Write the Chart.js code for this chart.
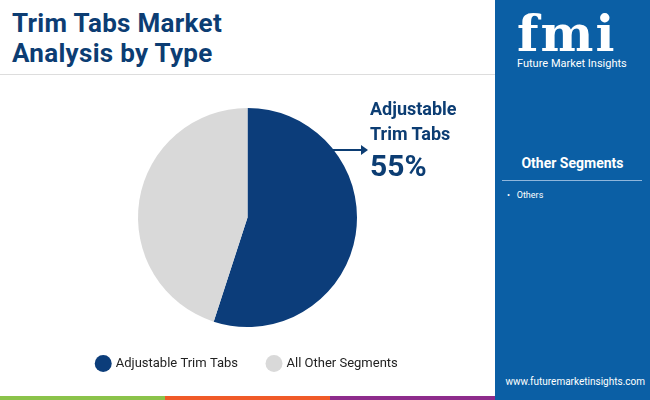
<!DOCTYPE html><html><head><script src="https://cdn.jsdelivr.net/npm/chart.js"></script>
<style>body{margin:0;width:650px;height:400px;position:relative;overflow:hidden;font-family:Roboto,sans-serif;background:#fff}
#t{position:absolute;left:12px;top:8px;font-size:26px;font-weight:bold;color:#0c3d73;line-height:30px;letter-spacing:0.3px}
#hl{position:absolute;left:0;top:74px;width:495px;height:1px;background:#ddd}
#p{position:absolute;left:495px;top:0;width:155px;height:400px;background:#0b5fa5;color:#fff}
.s{position:absolute;top:396px;height:4px}
#c{position:absolute;left:0;top:95px}
.z{z-index:2}
</style></head><body>
<canvas id="c" width="495" height="285"></canvas>
<div id="t">Trim Tabs Market<br>Analysis by Type</div><div id="hl"></div>
<div id="p">
<div style="position:absolute;left:22px;top:4px;font:bold 50px 'DejaVu Serif',serif;letter-spacing:2px">fmi</div>
<div style="position:absolute;left:22px;top:57px;font-size:11px">Future Market Insights</div>
<div style="position:absolute;left:0;width:155px;top:155px;text-align:center;font-size:14px;font-weight:bold">Other Segments</div>
<div style="position:absolute;left:7px;width:140px;top:180px;height:1px;background:#8fb6dc"></div>
<div style="position:absolute;left:12px;top:190px;font-size:9px">•&nbsp;&nbsp;&nbsp;Others</div>
<div style="position:absolute;left:0;width:150px;text-align:right;top:376px;font-size:10px">www.futuremarketinsights.com</div>
</div>
<div class="s" style="left:0;width:165px;background:#8bc34a"></div>
<div class="s" style="left:165px;width:165px;background:#f05a28"></div>
<div class="s" style="left:330px;width:165px;background:#8e2c8c"></div>
<div class="z" style="position:absolute;left:370px;top:96px;font-size:18px;font-weight:bold;color:#0c3d73;line-height:25px">Adjustable<br>Trim Tabs<br><span style="font-size:30px;line-height:40px">55%</span></div>
<svg class="z" style="position:absolute;left:330px;top:143px" width="40" height="14"><line x1="2" y1="7" x2="32" y2="7" stroke="#0c3d73" stroke-width="2"/><polygon points="31,2 38,7 31,12" fill="#0c3d73"/></svg>
<script>
const categories=["Adjustable Trim Tabs","All Other Segments"];
const values=[55,45];
new Chart(document.getElementById('c'),{type:'pie',data:{labels:categories,datasets:[{data:values,backgroundColor:['#0c3d7a','#d9d9d9'],borderWidth:0}]},
options:{responsive:false,animation:false,layout:{padding:{top:13}},plugins:{tooltip:{enabled:false},legend:{position:'bottom',labels:{usePointStyle:true,pointStyle:'circle',boxWidth:12,boxHeight:12,padding:30,color:'#222',font:{family:'Roboto',size:13}}}}}});
</script></body></html>
